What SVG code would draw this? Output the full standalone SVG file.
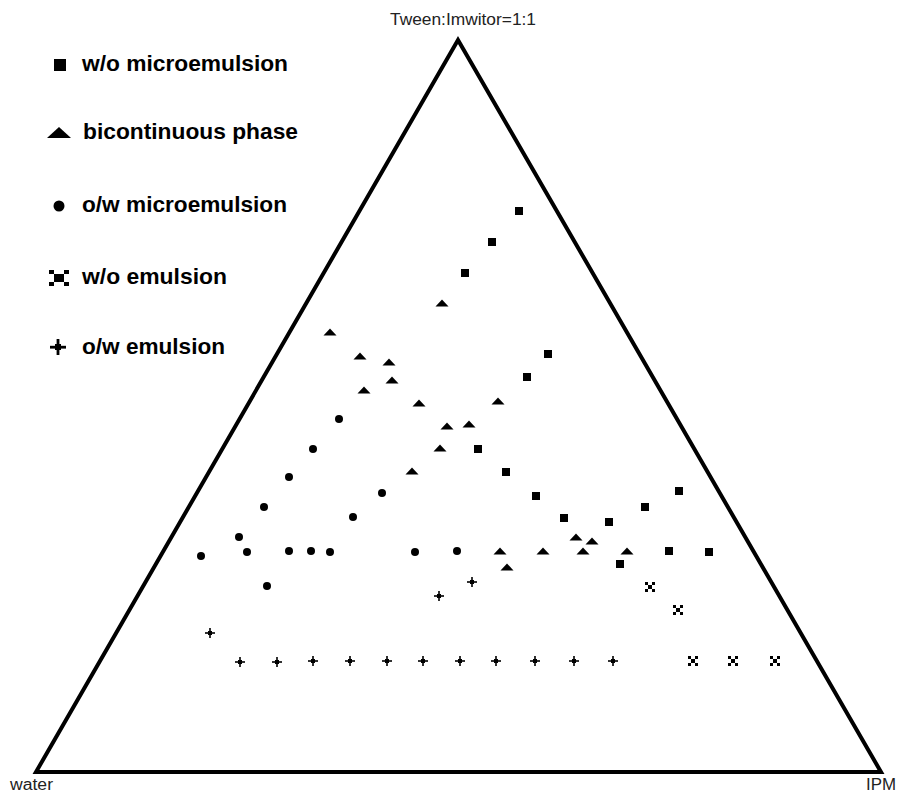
<svg xmlns="http://www.w3.org/2000/svg" xmlns:xlink="http://www.w3.org/1999/xlink" width="898" height="793" viewBox="0 0 898 793">
<style>
.lbl{font-family:"Liberation Sans",Arial,sans-serif;font-size:16px;fill:#222}
.leg{font-family:"Liberation Sans",Arial,sans-serif;font-size:22px;font-weight:bold;fill:#000}
.m{fill:#000}
</style>
<defs>
<rect id="sq" x="-4" y="-4" width="8" height="8" fill="#000"/>
<polygon id="tr" points="-6.5,3.5 6.5,3.5 0,-3.5" fill="#000"/>
<circle id="dt" r="4" fill="#000"/>
<g id="pl" fill="#000"><rect x="-5" y="-0.8" width="10" height="1.6"/><rect x="-0.8" y="-5" width="1.6" height="10"/><rect x="-2" y="-2" width="4" height="4"/></g>
<g id="xm" fill="#000"><rect x="-5" y="-5" width="3" height="3"/><rect x="2" y="-5" width="3" height="3"/><rect x="-5" y="2" width="3" height="3"/><rect x="2" y="2" width="3" height="3"/><rect x="-2" y="-2" width="4" height="4"/></g>
</defs>
<rect width="898" height="793" fill="#fff"/>
<g id="frame">
<polygon points="36,772 881,772 458,40" fill="none" stroke="#000" stroke-width="4" stroke-linejoin="miter"/>
</g>
<g id="labels">
<text class="lbl" x="390" y="25" textLength="146" lengthAdjust="spacingAndGlyphs">Tween:Imwitor=1:1</text>
<text class="lbl" x="10" y="790" textLength="43" lengthAdjust="spacingAndGlyphs">water</text>
<text class="lbl" x="866" y="790" textLength="30" lengthAdjust="spacingAndGlyphs">IPM</text>
</g>
<g id="legend">
<g id="leg-wo-micro"><rect x="54" y="59" width="12" height="12" fill="#000"/><text class="leg" x="82" y="71" textLength="206" lengthAdjust="spacingAndGlyphs">w/o microemulsion</text></g>
<g id="leg-bicont"><polygon points="47,138 71,138 59,127" fill="#000"/><text class="leg" x="83" y="139" textLength="215" lengthAdjust="spacingAndGlyphs">bicontinuous phase</text></g>
<g id="leg-ow-micro"><circle cx="59" cy="206" r="5.5" fill="#000"/><text class="leg" x="82" y="212" textLength="205" lengthAdjust="spacingAndGlyphs">o/w microemulsion</text></g>
<g id="leg-wo-emul" fill="#000"><rect x="49" y="270" width="5" height="4"/><rect x="64" y="270" width="5" height="4"/><rect x="49" y="282" width="5" height="4"/><rect x="64" y="282" width="5" height="4"/><rect x="54" y="274" width="10" height="8"/><text class="leg" x="82" y="284" textLength="145" lengthAdjust="spacingAndGlyphs">w/o emulsion</text></g>
<g id="leg-ow-emul" fill="#000"><rect x="50" y="345.8" width="16" height="2.8"/><rect x="56.6" y="339" width="2.8" height="16"/><rect x="55" y="344" width="6" height="6"/><text class="leg" x="82" y="354" textLength="143" lengthAdjust="spacingAndGlyphs">o/w emulsion</text></g>
</g>
<g id="wo-microemulsion">
<use href="#sq" x="519" y="211"/><use href="#sq" x="492" y="242"/><use href="#sq" x="465" y="273"/>
<use href="#sq" x="548" y="354"/><use href="#sq" x="527" y="377"/><use href="#sq" x="478" y="449"/>
<use href="#sq" x="506" y="472"/><use href="#sq" x="536" y="496"/><use href="#sq" x="564" y="518"/>
<use href="#sq" x="609" y="522"/><use href="#sq" x="645" y="507"/><use href="#sq" x="679" y="491"/>
<use href="#sq" x="669" y="551"/><use href="#sq" x="709" y="552"/><use href="#sq" x="620" y="564"/>
</g>
<g id="bicontinuous">
<use href="#tr" x="330" y="332"/><use href="#tr" x="360" y="356"/><use href="#tr" x="389" y="362"/>
<use href="#tr" x="392" y="380"/><use href="#tr" x="364" y="390"/><use href="#tr" x="419" y="403"/>
<use href="#tr" x="442" y="303"/><use href="#tr" x="498" y="401"/><use href="#tr" x="447" y="426"/>
<use href="#tr" x="469" y="424"/><use href="#tr" x="440" y="448"/><use href="#tr" x="412" y="471"/>
<use href="#tr" x="500" y="551"/><use href="#tr" x="507" y="567"/><use href="#tr" x="543" y="551"/>
<use href="#tr" x="576" y="537"/><use href="#tr" x="592" y="541"/><use href="#tr" x="583" y="551"/>
<use href="#tr" x="627" y="551"/>
</g>
<g id="ow-microemulsion">
<use href="#dt" x="339" y="419"/><use href="#dt" x="313" y="449"/><use href="#dt" x="289" y="477"/>
<use href="#dt" x="264" y="507"/><use href="#dt" x="239" y="537"/><use href="#dt" x="247" y="552"/>
<use href="#dt" x="201" y="556"/><use href="#dt" x="289" y="551"/><use href="#dt" x="311" y="551"/>
<use href="#dt" x="330" y="552"/><use href="#dt" x="267" y="586"/><use href="#dt" x="382" y="493"/>
<use href="#dt" x="353" y="517"/><use href="#dt" x="415" y="552"/><use href="#dt" x="457" y="551"/>
</g>
<g id="ow-emulsion">
<use href="#pl" x="210" y="633"/><use href="#pl" x="240" y="662"/><use href="#pl" x="277" y="662"/>
<use href="#pl" x="313" y="661"/><use href="#pl" x="350" y="661"/><use href="#pl" x="387" y="661"/>
<use href="#pl" x="423" y="661"/><use href="#pl" x="460" y="661"/><use href="#pl" x="496" y="661"/>
<use href="#pl" x="535" y="661"/><use href="#pl" x="574" y="661"/><use href="#pl" x="613" y="661"/>
<use href="#pl" x="472" y="582"/><use href="#pl" x="439" y="596"/>
</g>
<g id="wo-emulsion">
<use href="#xm" x="650" y="587"/><use href="#xm" x="678" y="610"/><use href="#xm" x="693" y="661"/>
<use href="#xm" x="733" y="661"/><use href="#xm" x="775" y="661"/>
</g>
</svg>
